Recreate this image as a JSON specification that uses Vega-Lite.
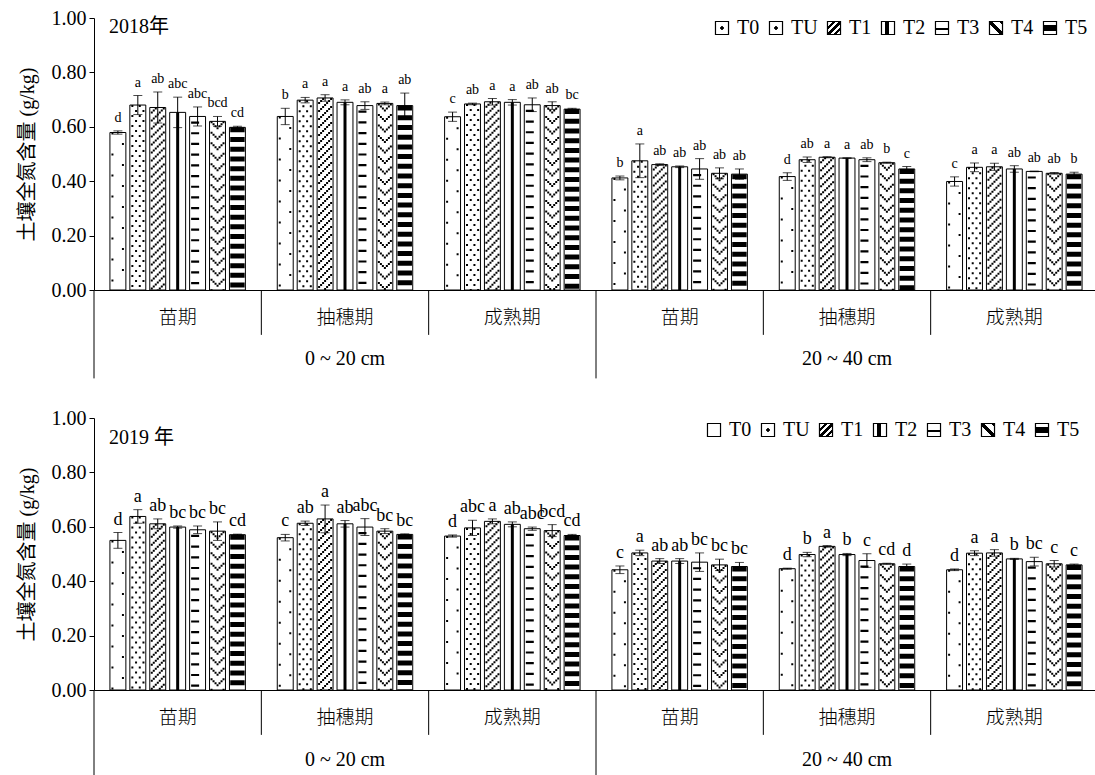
{
  "$schema": "https://vega.github.io/schema/vega-lite/v6.json",
  "background": "white",
  "padding": {"left": 17, "top": 8, "right": 0, "bottom": 0},
  "config": {"view": {"stroke": null}, "font": "Liberation Serif"},
  "datasets": {
    "y2018": [
      {"g": "0~20|苗期", "t": "T0", "v": 0.579, "lo": 0.573, "hi": 0.585, "lab": "d"},
      {"g": "0~20|苗期", "t": "TU", "v": 0.680, "lo": 0.645, "hi": 0.715, "lab": "a"},
      {"g": "0~20|苗期", "t": "T1", "v": 0.671, "lo": 0.614, "hi": 0.728, "lab": "ab"},
      {"g": "0~20|苗期", "t": "T2", "v": 0.653, "lo": 0.597, "hi": 0.709, "lab": "abc"},
      {"g": "0~20|苗期", "t": "T3", "v": 0.638, "lo": 0.603, "hi": 0.673, "lab": "abc"},
      {"g": "0~20|苗期", "t": "T4", "v": 0.620, "lo": 0.602, "hi": 0.638, "lab": "bcd"},
      {"g": "0~20|苗期", "t": "T5", "v": 0.598, "lo": 0.594, "hi": 0.602, "lab": "cd"},
      {"g": "0~20|抽穗期", "t": "T0", "v": 0.638, "lo": 0.608, "hi": 0.668, "lab": "b"},
      {"g": "0~20|抽穗期", "t": "TU", "v": 0.698, "lo": 0.688, "hi": 0.708, "lab": "a"},
      {"g": "0~20|抽穗期", "t": "T1", "v": 0.706, "lo": 0.694, "hi": 0.718, "lab": "a"},
      {"g": "0~20|抽穗期", "t": "T2", "v": 0.690, "lo": 0.681, "hi": 0.699, "lab": "a"},
      {"g": "0~20|抽穗期", "t": "T3", "v": 0.678, "lo": 0.664, "hi": 0.692, "lab": "ab"},
      {"g": "0~20|抽穗期", "t": "T4", "v": 0.686, "lo": 0.681, "hi": 0.691, "lab": "a"},
      {"g": "0~20|抽穗期", "t": "T5", "v": 0.678, "lo": 0.632, "hi": 0.724, "lab": "ab"},
      {"g": "0~20|成熟期", "t": "T0", "v": 0.637, "lo": 0.620, "hi": 0.654, "lab": "c"},
      {"g": "0~20|成熟期", "t": "TU", "v": 0.684, "lo": 0.681, "hi": 0.687, "lab": "ab"},
      {"g": "0~20|成熟期", "t": "T1", "v": 0.692, "lo": 0.680, "hi": 0.704, "lab": "a"},
      {"g": "0~20|成熟期", "t": "T2", "v": 0.690, "lo": 0.680, "hi": 0.700, "lab": "a"},
      {"g": "0~20|成熟期", "t": "T3", "v": 0.681, "lo": 0.656, "hi": 0.706, "lab": "ab"},
      {"g": "0~20|成熟期", "t": "T4", "v": 0.678, "lo": 0.664, "hi": 0.692, "lab": "ab"},
      {"g": "0~20|成熟期", "t": "T5", "v": 0.665, "lo": 0.662, "hi": 0.668, "lab": "bc"},
      {"g": "20~40|苗期", "t": "T0", "v": 0.412, "lo": 0.405, "hi": 0.419, "lab": "b"},
      {"g": "20~40|苗期", "t": "TU", "v": 0.475, "lo": 0.413, "hi": 0.537, "lab": "a"},
      {"g": "20~40|苗期", "t": "T1", "v": 0.461, "lo": 0.458, "hi": 0.464, "lab": "ab"},
      {"g": "20~40|苗期", "t": "T2", "v": 0.453, "lo": 0.450, "hi": 0.456, "lab": "ab"},
      {"g": "20~40|苗期", "t": "T3", "v": 0.445, "lo": 0.407, "hi": 0.483, "lab": "ab"},
      {"g": "20~40|苗期", "t": "T4", "v": 0.429, "lo": 0.409, "hi": 0.449, "lab": "ab"},
      {"g": "20~40|苗期", "t": "T5", "v": 0.426, "lo": 0.407, "hi": 0.445, "lab": "ab"},
      {"g": "20~40|抽穗期", "t": "T0", "v": 0.417, "lo": 0.403, "hi": 0.431, "lab": "d"},
      {"g": "20~40|抽穗期", "t": "TU", "v": 0.479, "lo": 0.469, "hi": 0.489, "lab": "ab"},
      {"g": "20~40|抽穗期", "t": "T1", "v": 0.488, "lo": 0.486, "hi": 0.490, "lab": "a"},
      {"g": "20~40|抽穗期", "t": "T2", "v": 0.485, "lo": 0.484, "hi": 0.486, "lab": "a"},
      {"g": "20~40|抽穗期", "t": "T3", "v": 0.479, "lo": 0.472, "hi": 0.486, "lab": "ab"},
      {"g": "20~40|抽穗期", "t": "T4", "v": 0.468, "lo": 0.466, "hi": 0.470, "lab": "b"},
      {"g": "20~40|抽穗期", "t": "T5", "v": 0.445, "lo": 0.436, "hi": 0.454, "lab": "c"},
      {"g": "20~40|成熟期", "t": "T0", "v": 0.399, "lo": 0.382, "hi": 0.416, "lab": "c"},
      {"g": "20~40|成熟期", "t": "TU", "v": 0.451, "lo": 0.435, "hi": 0.467, "lab": "a"},
      {"g": "20~40|成熟期", "t": "T1", "v": 0.453, "lo": 0.440, "hi": 0.466, "lab": "a"},
      {"g": "20~40|成熟期", "t": "T2", "v": 0.445, "lo": 0.433, "hi": 0.457, "lab": "ab"},
      {"g": "20~40|成熟期", "t": "T3", "v": 0.436, "lo": 0.435, "hi": 0.437, "lab": "ab"},
      {"g": "20~40|成熟期", "t": "T4", "v": 0.429, "lo": 0.426, "hi": 0.432, "lab": "ab"},
      {"g": "20~40|成熟期", "t": "T5", "v": 0.426, "lo": 0.419, "hi": 0.433, "lab": "b"}
    ],
    "y2019": [
      {"g": "0~20|苗期", "t": "T0", "v": 0.550, "lo": 0.521, "hi": 0.579, "lab": "d"},
      {"g": "0~20|苗期", "t": "TU", "v": 0.638, "lo": 0.613, "hi": 0.663, "lab": "a"},
      {"g": "0~20|苗期", "t": "T1", "v": 0.611, "lo": 0.593, "hi": 0.629, "lab": "ab"},
      {"g": "0~20|苗期", "t": "T2", "v": 0.599, "lo": 0.595, "hi": 0.603, "lab": "bc"},
      {"g": "0~20|苗期", "t": "T3", "v": 0.589, "lo": 0.575, "hi": 0.603, "lab": "bc"},
      {"g": "0~20|苗期", "t": "T4", "v": 0.584, "lo": 0.550, "hi": 0.618, "lab": "bc"},
      {"g": "0~20|苗期", "t": "T5", "v": 0.571, "lo": 0.569, "hi": 0.573, "lab": "cd"},
      {"g": "0~20|抽穗期", "t": "T0", "v": 0.560, "lo": 0.548, "hi": 0.572, "lab": "c"},
      {"g": "0~20|抽穗期", "t": "TU", "v": 0.613, "lo": 0.605, "hi": 0.621, "lab": "ab"},
      {"g": "0~20|抽穗期", "t": "T1", "v": 0.629, "lo": 0.578, "hi": 0.680, "lab": "a"},
      {"g": "0~20|抽穗期", "t": "T2", "v": 0.611, "lo": 0.599, "hi": 0.623, "lab": "ab"},
      {"g": "0~20|抽穗期", "t": "T3", "v": 0.599, "lo": 0.568, "hi": 0.630, "lab": "abc"},
      {"g": "0~20|抽穗期", "t": "T4", "v": 0.584, "lo": 0.575, "hi": 0.593, "lab": "bc"},
      {"g": "0~20|抽穗期", "t": "T5", "v": 0.572, "lo": 0.570, "hi": 0.574, "lab": "bc"},
      {"g": "0~20|成熟期", "t": "T0", "v": 0.566, "lo": 0.562, "hi": 0.570, "lab": "d"},
      {"g": "0~20|成熟期", "t": "TU", "v": 0.596, "lo": 0.568, "hi": 0.624, "lab": "abc"},
      {"g": "0~20|成熟期", "t": "T1", "v": 0.620, "lo": 0.611, "hi": 0.629, "lab": "a"},
      {"g": "0~20|成熟期", "t": "T2", "v": 0.609, "lo": 0.600, "hi": 0.618, "lab": "ab"},
      {"g": "0~20|成熟期", "t": "T3", "v": 0.593, "lo": 0.587, "hi": 0.599, "lab": "abc"},
      {"g": "0~20|成熟期", "t": "T4", "v": 0.586, "lo": 0.564, "hi": 0.608, "lab": "bcd"},
      {"g": "0~20|成熟期", "t": "T5", "v": 0.568, "lo": 0.564, "hi": 0.572, "lab": "cd"},
      {"g": "20~40|苗期", "t": "T0", "v": 0.442, "lo": 0.428, "hi": 0.456, "lab": "c"},
      {"g": "20~40|苗期", "t": "TU", "v": 0.504, "lo": 0.494, "hi": 0.514, "lab": "a"},
      {"g": "20~40|苗期", "t": "T1", "v": 0.474, "lo": 0.465, "hi": 0.483, "lab": "ab"},
      {"g": "20~40|苗期", "t": "T2", "v": 0.474, "lo": 0.465, "hi": 0.483, "lab": "ab"},
      {"g": "20~40|苗期", "t": "T3", "v": 0.470, "lo": 0.436, "hi": 0.504, "lab": "bc"},
      {"g": "20~40|苗期", "t": "T4", "v": 0.460, "lo": 0.439, "hi": 0.481, "lab": "bc"},
      {"g": "20~40|苗期", "t": "T5", "v": 0.454, "lo": 0.439, "hi": 0.469, "lab": "bc"},
      {"g": "20~40|抽穗期", "t": "T0", "v": 0.446, "lo": 0.444, "hi": 0.448, "lab": "d"},
      {"g": "20~40|抽穗期", "t": "TU", "v": 0.498, "lo": 0.490, "hi": 0.506, "lab": "b"},
      {"g": "20~40|抽穗期", "t": "T1", "v": 0.528, "lo": 0.525, "hi": 0.531, "lab": "a"},
      {"g": "20~40|抽穗期", "t": "T2", "v": 0.498, "lo": 0.494, "hi": 0.502, "lab": "b"},
      {"g": "20~40|抽穗期", "t": "T3", "v": 0.476, "lo": 0.451, "hi": 0.501, "lab": "c"},
      {"g": "20~40|抽穗期", "t": "T4", "v": 0.464, "lo": 0.462, "hi": 0.466, "lab": "cd"},
      {"g": "20~40|抽穗期", "t": "T5", "v": 0.454, "lo": 0.445, "hi": 0.463, "lab": "d"},
      {"g": "20~40|成熟期", "t": "T0", "v": 0.442, "lo": 0.439, "hi": 0.445, "lab": "d"},
      {"g": "20~40|成熟期", "t": "TU", "v": 0.503, "lo": 0.494, "hi": 0.512, "lab": "a"},
      {"g": "20~40|成熟期", "t": "T1", "v": 0.504, "lo": 0.492, "hi": 0.516, "lab": "a"},
      {"g": "20~40|成熟期", "t": "T2", "v": 0.482, "lo": 0.480, "hi": 0.484, "lab": "b"},
      {"g": "20~40|成熟期", "t": "T3", "v": 0.472, "lo": 0.456, "hi": 0.488, "lab": "bc"},
      {"g": "20~40|成熟期", "t": "T4", "v": 0.464, "lo": 0.452, "hi": 0.476, "lab": "c"},
      {"g": "20~40|成熟期", "t": "T5", "v": 0.460, "lo": 0.457, "hi": 0.463, "lab": "c"}
    ]
  },
  "spacing": 128,
  "bounds": "flush",
  "resolve": {"scale": {"x": "independent", "y": "independent", "xOffset": "independent", "stroke": "independent"}, "legend": {"stroke": "independent"}},
  "vconcat": [
    {
      "width": 1004,
      "height": 272,
      "data": {"name": "y2018"},
      "layer": [
        {
          "mark": {"type": "bar", "fill": "#fff", "strokeWidth": 1},
          "encoding": {
            "x": {"field": "g", "type": "nominal", "scale": {"domain": ["0~20|苗期", "0~20|抽穗期", "0~20|成熟期", "20~40|苗期", "20~40|抽穗期", "20~40|成熟期"], "paddingInner": 0, "paddingOuter": 0},
              "axis": {"title": null, "labelExpr": "split(datum.label, '|')[1]", "ticks": false, "labelAngle": 0, "labelPadding": 18, "labelFont": "Noto Sans CJK SC", "labelFontSize": 19, "labelFontWeight": 300, "labelColor": "#000", "domainColor": "#000", "labelLimit": 0}},
            "xOffset": {"field": "t", "type": "nominal", "scale": {"domain": ["T0", "TU", "T1", "T2", "T3", "T4", "T5"], "paddingInner": 0.2, "paddingOuter": 0.8}},
            "y": {"field": "v", "type": "quantitative", "scale": {"domain": [0, 1]},
              "axis": {"title": "土壤全氮含量 (g/kg)", "values": [0, 0.2, 0.4, 0.6, 0.8, 1], "format": ".2f", "grid": false, "tickSize": 5, "tickColor": "#000", "domainColor": "#000", "labelFont": "Liberation Serif", "labelFontSize": 20, "labelColor": "#000", "labelPadding": 3, "titleFont": "Liberation Serif, Noto Sans CJK SC", "titleFontSize": 20, "titleFontWeight": "normal", "titleColor": "#000", "titlePadding": 14}},
            "stroke": {"field": "t", "type": "nominal", "scale": {"domain": ["T0", "TU", "T1", "T2", "T3", "T4", "T5"], "range": ["#000", "#000", "#000", "#000", "#000", "#000", "#000"]},
              "legend": {"title": null, "orient": "none", "legendX": 618, "legendY": 0, "direction": "horizontal", "gridAlign": "none", "symbolType": "square", "symbolSize": 170, "symbolStrokeWidth": 1.2, "symbolStrokeColor": "#000", "labelFont": "Liberation Serif", "labelFontSize": 20, "labelColor": "#000", "labelOffset": 5, "columnPadding": 6,
                "encoding": {"symbols": {"fillOpacity": {"value": 1}, "fill": {"condition": [
                  {"test": "datum.value === 'T0' || datum.value === 'TU'", "value": {"gradient": "radial", "x1": 0.5, "y1": 0.5, "r1": 0, "x2": 0.5, "y2": 0.5, "r2": 0.5, "stops": [{"offset": 0, "color": "#000"}, {"offset": 0.28, "color": "#000"}, {"offset": 0.3, "color": "#fff"}, {"offset": 1, "color": "#fff"}]}},
                  {"test": "datum.value === 'T1'", "value": {"gradient": "linear", "x1": 0, "y1": 0, "x2": 1, "y2": 1, "stops": [{"offset": 0, "color": "#fff"}, {"offset": 0.22, "color": "#fff"}, {"offset": 0.22, "color": "#000"}, {"offset": 0.34, "color": "#000"}, {"offset": 0.34, "color": "#fff"}, {"offset": 0.46, "color": "#fff"}, {"offset": 0.46, "color": "#000"}, {"offset": 0.58, "color": "#000"}, {"offset": 0.58, "color": "#fff"}, {"offset": 0.7, "color": "#fff"}, {"offset": 0.7, "color": "#000"}, {"offset": 0.82, "color": "#000"}, {"offset": 0.82, "color": "#fff"}, {"offset": 1, "color": "#fff"}]}},
                  {"test": "datum.value === 'T2'", "value": {"gradient": "linear", "x1": 0, "y1": 0, "x2": 1, "y2": 0, "stops": [{"offset": 0, "color": "#fff"}, {"offset": 0.3, "color": "#fff"}, {"offset": 0.3, "color": "#000"}, {"offset": 0.55, "color": "#000"}, {"offset": 0.55, "color": "#fff"}, {"offset": 1, "color": "#fff"}]}},
                  {"test": "datum.value === 'T3'", "value": {"gradient": "linear", "x1": 0, "y1": 0, "x2": 0, "y2": 1, "stops": [{"offset": 0, "color": "#fff"}, {"offset": 0.5, "color": "#fff"}, {"offset": 0.5, "color": "#000"}, {"offset": 0.64, "color": "#000"}, {"offset": 0.64, "color": "#fff"}, {"offset": 1, "color": "#fff"}]}},
                  {"test": "datum.value === 'T4'", "value": {"gradient": "linear", "x1": 0, "y1": 1, "x2": 1, "y2": 0, "stops": [{"offset": 0, "color": "#fff"}, {"offset": 0.42, "color": "#fff"}, {"offset": 0.42, "color": "#000"}, {"offset": 0.58, "color": "#000"}, {"offset": 0.58, "color": "#fff"}, {"offset": 0.85, "color": "#fff"}, {"offset": 0.85, "color": "#000"}, {"offset": 1, "color": "#000"}]}},
                  {"test": "datum.value === 'T5'", "value": {"gradient": "linear", "x1": 0, "y1": 0, "x2": 0, "y2": 1, "stops": [{"offset": 0, "color": "#fff"}, {"offset": 0.3, "color": "#fff"}, {"offset": 0.3, "color": "#000"}, {"offset": 0.7, "color": "#000"}, {"offset": 0.7, "color": "#fff"}, {"offset": 1, "color": "#fff"}]}}],
                  "value": "#fff"}}}}}
          }
        },
        {"transform": [{"filter": "datum.t == 'T0'"}], "mark": {"type": "rule", "color": "#000", "strokeWidth": 2, "strokeDash": [2, 19], "strokeDashOffset": 0}, "encoding": {"x": {"field": "g", "type": "nominal", "bandPosition": 0.1102}, "y": {"field": "v", "type": "quantitative"}, "y2": {"datum": 0}}},
        {"transform": [{"filter": "datum.t == 'T0'"}], "mark": {"type": "rule", "color": "#000", "strokeWidth": 2, "strokeDash": [2, 19], "strokeDashOffset": 10.5}, "encoding": {"x": {"field": "g", "type": "nominal", "bandPosition": 0.1729}, "y": {"field": "v", "type": "quantitative"}, "y2": {"datum": 0}}},
        {"transform": [{"filter": "datum.t == 'TU'"}], "mark": {"type": "rule", "color": "#000", "strokeWidth": 2, "strokeDash": [2, 8], "strokeDashOffset": 0}, "encoding": {"x": {"field": "g", "type": "nominal", "bandPosition": 0.2292}, "y": {"field": "v", "type": "quantitative"}, "y2": {"datum": 0}}},
        {"transform": [{"filter": "datum.t == 'TU'"}], "mark": {"type": "rule", "color": "#000", "strokeWidth": 2, "strokeDash": [2, 8], "strokeDashOffset": 5}, "encoding": {"x": {"field": "g", "type": "nominal", "bandPosition": 0.2513}, "y": {"field": "v", "type": "quantitative"}, "y2": {"datum": 0}}},
        {"transform": [{"filter": "datum.t == 'TU'"}], "mark": {"type": "rule", "color": "#000", "strokeWidth": 2, "strokeDash": [2, 8], "strokeDashOffset": 0}, "encoding": {"x": {"field": "g", "type": "nominal", "bandPosition": 0.2735}, "y": {"field": "v", "type": "quantitative"}, "y2": {"datum": 0}}},
        {"transform": [{"filter": "datum.t == 'TU'"}], "mark": {"type": "rule", "color": "#000", "strokeWidth": 2, "strokeDash": [2, 8], "strokeDashOffset": 5}, "encoding": {"x": {"field": "g", "type": "nominal", "bandPosition": 0.2956}, "y": {"field": "v", "type": "quantitative"}, "y2": {"datum": 0}}},
        {"transform": [{"filter": "datum.t == 'T1'"}], "mark": {"type": "rule", "color": "#000", "strokeWidth": 2, "strokeDash": [2, 6], "strokeDashOffset": 4}, "encoding": {"x": {"field": "g", "type": "nominal", "bandPosition": 0.3453}, "y": {"field": "v", "type": "quantitative"}, "y2": {"datum": 0}}},
        {"transform": [{"filter": "datum.t == 'T1'"}], "mark": {"type": "rule", "color": "#000", "strokeWidth": 2, "strokeDash": [2, 6], "strokeDashOffset": 6}, "encoding": {"x": {"field": "g", "type": "nominal", "bandPosition": 0.3572}, "y": {"field": "v", "type": "quantitative"}, "y2": {"datum": 0}}},
        {"transform": [{"filter": "datum.t == 'T1'"}], "mark": {"type": "rule", "color": "#000", "strokeWidth": 2, "strokeDash": [2, 6], "strokeDashOffset": 0}, "encoding": {"x": {"field": "g", "type": "nominal", "bandPosition": 0.3692}, "y": {"field": "v", "type": "quantitative"}, "y2": {"datum": 0}}},
        {"transform": [{"filter": "datum.t == 'T1'"}], "mark": {"type": "rule", "color": "#000", "strokeWidth": 2, "strokeDash": [2, 6], "strokeDashOffset": 2}, "encoding": {"x": {"field": "g", "type": "nominal", "bandPosition": 0.3812}, "y": {"field": "v", "type": "quantitative"}, "y2": {"datum": 0}}},
        {"transform": [{"filter": "datum.t == 'T1'"}], "mark": {"type": "rule", "color": "#000", "strokeWidth": 2, "strokeDash": [2, 6], "strokeDashOffset": 4}, "encoding": {"x": {"field": "g", "type": "nominal", "bandPosition": 0.3931}, "y": {"field": "v", "type": "quantitative"}, "y2": {"datum": 0}}},
        {"transform": [{"filter": "datum.t == 'T1'"}], "mark": {"type": "rule", "color": "#000", "strokeWidth": 2, "strokeDash": [2, 6], "strokeDashOffset": 6}, "encoding": {"x": {"field": "g", "type": "nominal", "bandPosition": 0.4051}, "y": {"field": "v", "type": "quantitative"}, "y2": {"datum": 0}}},
        {"transform": [{"filter": "datum.t == 'T1'"}], "mark": {"type": "rule", "color": "#000", "strokeWidth": 2, "strokeDash": [2, 6], "strokeDashOffset": 0}, "encoding": {"x": {"field": "g", "type": "nominal", "bandPosition": 0.4170}, "y": {"field": "v", "type": "quantitative"}, "y2": {"datum": 0}}},
        {"transform": [{"filter": "datum.t == 'T2'"}], "mark": {"type": "rule", "color": "#000", "strokeWidth": 3}, "encoding": {"x": {"field": "g", "type": "nominal", "bandPosition": 0.5}, "y": {"field": "v", "type": "quantitative"}, "y2": {"datum": 0}}},
        {"transform": [{"filter": "datum.t == 'T3'"}], "mark": {"type": "rule", "color": "#000", "strokeWidth": 8, "strokeDash": [2.2, 8.5], "strokeDashOffset": 5.7}, "encoding": {"x": {"field": "g", "type": "nominal", "bandPosition": 0.6043}, "y": {"field": "v", "type": "quantitative"}, "y2": {"datum": 0}}},
        {"transform": [{"filter": "datum.t == 'T4'"}], "mark": {"type": "rule", "color": "#000", "strokeWidth": 2, "strokeDash": [2, 8.5], "strokeDashOffset": 0}, "encoding": {"x": {"field": "g", "type": "nominal", "bandPosition": 0.7024}, "y": {"field": "v", "type": "quantitative"}, "y2": {"datum": 0}}},
        {"transform": [{"filter": "datum.t == 'T4'"}], "mark": {"type": "rule", "color": "#000", "strokeWidth": 2, "strokeDash": [2, 8.5], "strokeDashOffset": 8.5}, "encoding": {"x": {"field": "g", "type": "nominal", "bandPosition": 0.7144}, "y": {"field": "v", "type": "quantitative"}, "y2": {"datum": 0}}},
        {"transform": [{"filter": "datum.t == 'T4'"}], "mark": {"type": "rule", "color": "#000", "strokeWidth": 2, "strokeDash": [2, 8.5], "strokeDashOffset": 6.5}, "encoding": {"x": {"field": "g", "type": "nominal", "bandPosition": 0.7263}, "y": {"field": "v", "type": "quantitative"}, "y2": {"datum": 0}}},
        {"transform": [{"filter": "datum.t == 'T4'"}], "mark": {"type": "rule", "color": "#000", "strokeWidth": 2, "strokeDash": [2, 8.5], "strokeDashOffset": 4.5}, "encoding": {"x": {"field": "g", "type": "nominal", "bandPosition": 0.7383}, "y": {"field": "v", "type": "quantitative"}, "y2": {"datum": 0}}},
        {"transform": [{"filter": "datum.t == 'T4'"}], "mark": {"type": "rule", "color": "#000", "strokeWidth": 2, "strokeDash": [2, 8.5], "strokeDashOffset": 6.5}, "encoding": {"x": {"field": "g", "type": "nominal", "bandPosition": 0.7502}, "y": {"field": "v", "type": "quantitative"}, "y2": {"datum": 0}}},
        {"transform": [{"filter": "datum.t == 'T4'"}], "mark": {"type": "rule", "color": "#000", "strokeWidth": 2, "strokeDash": [2, 8.5], "strokeDashOffset": 8.5}, "encoding": {"x": {"field": "g", "type": "nominal", "bandPosition": 0.7622}, "y": {"field": "v", "type": "quantitative"}, "y2": {"datum": 0}}},
        {"transform": [{"filter": "datum.t == 'T4'"}], "mark": {"type": "rule", "color": "#000", "strokeWidth": 2, "strokeDash": [2, 8.5], "strokeDashOffset": 0}, "encoding": {"x": {"field": "g", "type": "nominal", "bandPosition": 0.7741}, "y": {"field": "v", "type": "quantitative"}, "y2": {"datum": 0}}},
        {"transform": [{"filter": "datum.t == 'T5'"}], "mark": {"type": "rule", "color": "#000", "strokeWidth": 14.4, "strokeDash": [5, 4.7]}, "encoding": {"x": {"field": "g", "type": "nominal", "bandPosition": 0.8572}, "y": {"field": "v", "type": "quantitative"}, "y2": {"datum": 0}}},
        {"mark": {"type": "rule", "color": "#000", "strokeWidth": 1}, "encoding": {"x": {"field": "g", "type": "nominal"}, "xOffset": {"field": "t", "type": "nominal"}, "y": {"field": "lo", "type": "quantitative"}, "y2": {"field": "hi"}}},
        {"mark": {"type": "tick", "color": "#000", "size": 9, "thickness": 1}, "encoding": {"x": {"field": "g", "type": "nominal"}, "xOffset": {"field": "t", "type": "nominal"}, "y": {"field": "hi", "type": "quantitative"}}},
        {"mark": {"type": "tick", "color": "#000", "size": 9, "thickness": 1}, "encoding": {"x": {"field": "g", "type": "nominal"}, "xOffset": {"field": "t", "type": "nominal"}, "y": {"field": "lo", "type": "quantitative"}}},
        {
          "mark": {"type": "text", "font": "Liberation Serif", "fontSize": 14, "color": "#000", "baseline": "alphabetic", "dy": -9},
          "encoding": {"x": {"field": "g", "type": "nominal"}, "xOffset": {"field": "t", "type": "nominal"}, "y": {"field": "hi", "type": "quantitative"}, "text": {"field": "lab", "type": "nominal"}}
        },
        {
          "data": {"values": [{"g": "0~20|抽穗期"}, {"g": "0~20|成熟期"}, {"g": "20~40|抽穗期"}, {"g": "20~40|成熟期"}]},
          "mark": {"type": "rule", "color": "#000", "strokeWidth": 1},
          "encoding": {"x": {"field": "g", "type": "nominal", "bandPosition": 0}, "y": {"datum": 0, "type": "quantitative"}, "y2": {"datum": -0.165}}
        },
        {
          "data": {"values": [{"g": "0~20|苗期"}, {"g": "20~40|苗期"}]},
          "mark": {"type": "rule", "color": "#000", "strokeWidth": 1},
          "encoding": {"x": {"field": "g", "type": "nominal", "bandPosition": 0}, "y": {"datum": 0, "type": "quantitative"}, "y2": {"datum": -0.325}}
        },
        {
          "data": {"values": [{"g": "0~20|抽穗期", "d": "0 ~ 20 cm"}, {"g": "20~40|抽穗期", "d": "20 ~ 40 cm"}]},
          "mark": {"type": "text", "font": "Liberation Serif", "fontSize": 20, "color": "#000", "baseline": "middle"},
          "encoding": {"x": {"field": "g", "type": "nominal", "bandPosition": 0.5}, "y": {"datum": -0.255, "type": "quantitative"}, "text": {"field": "d", "type": "nominal"}}
        },
        {
          "data": {"values": [{"g": "0~20|苗期", "s": "2018年"}]},
          "mark": {"type": "text", "font": "Liberation Serif, Noto Sans CJK SC", "fontSize": 20, "color": "#000", "align": "left", "baseline": "middle"},
          "encoding": {"x": {"field": "g", "type": "nominal", "bandPosition": 0.09}, "y": {"datum": 0.968, "type": "quantitative"}, "text": {"field": "s", "type": "nominal"}}
        }
      ]
    },
    {
      "width": 1004,
      "height": 272,
      "data": {"name": "y2019"},
      "layer": [
        {
          "mark": {"type": "bar", "fill": "#fff", "strokeWidth": 1},
          "encoding": {
            "x": {"field": "g", "type": "nominal", "scale": {"domain": ["0~20|苗期", "0~20|抽穗期", "0~20|成熟期", "20~40|苗期", "20~40|抽穗期", "20~40|成熟期"], "paddingInner": 0, "paddingOuter": 0},
              "axis": {"title": null, "labelExpr": "split(datum.label, '|')[1]", "ticks": false, "labelAngle": 0, "labelPadding": 18, "labelFont": "Noto Sans CJK SC", "labelFontSize": 19, "labelFontWeight": 300, "labelColor": "#000", "domainColor": "#000", "labelLimit": 0}},
            "xOffset": {"field": "t", "type": "nominal", "scale": {"domain": ["T0", "TU", "T1", "T2", "T3", "T4", "T5"], "paddingInner": 0.2, "paddingOuter": 0.8}},
            "y": {"field": "v", "type": "quantitative", "scale": {"domain": [0, 1]},
              "axis": {"title": "土壤全氮含量 (g/kg)", "values": [0, 0.2, 0.4, 0.6, 0.8, 1], "format": ".2f", "grid": false, "tickSize": 5, "tickColor": "#000", "domainColor": "#000", "labelFont": "Liberation Serif", "labelFontSize": 20, "labelColor": "#000", "labelPadding": 3, "titleFont": "Liberation Serif, Noto Sans CJK SC", "titleFontSize": 20, "titleFontWeight": "normal", "titleColor": "#000", "titlePadding": 14}},
            "stroke": {"field": "t", "type": "nominal", "scale": {"domain": ["T0", "TU", "T1", "T2", "T3", "T4", "T5"], "range": ["#000", "#000", "#000", "#000", "#000", "#000", "#000"]},
              "legend": {"title": null, "orient": "none", "legendX": 610, "legendY": 2, "direction": "horizontal", "gridAlign": "none", "symbolType": "square", "symbolSize": 170, "symbolStrokeWidth": 1.2, "symbolStrokeColor": "#000", "labelFont": "Liberation Serif", "labelFontSize": 20, "labelColor": "#000", "labelOffset": 5, "columnPadding": 6,
                "encoding": {"symbols": {"fillOpacity": {"value": 1}, "fill": {"condition": [
                  {"test": "datum.value === 'TU'", "value": {"gradient": "radial", "x1": 0.5, "y1": 0.5, "r1": 0, "x2": 0.5, "y2": 0.5, "r2": 0.5, "stops": [{"offset": 0, "color": "#000"}, {"offset": 0.28, "color": "#000"}, {"offset": 0.3, "color": "#fff"}, {"offset": 1, "color": "#fff"}]}},
                  {"test": "datum.value === 'T1'", "value": {"gradient": "linear", "x1": 0, "y1": 0, "x2": 1, "y2": 1, "stops": [{"offset": 0, "color": "#fff"}, {"offset": 0.22, "color": "#fff"}, {"offset": 0.22, "color": "#000"}, {"offset": 0.34, "color": "#000"}, {"offset": 0.34, "color": "#fff"}, {"offset": 0.46, "color": "#fff"}, {"offset": 0.46, "color": "#000"}, {"offset": 0.58, "color": "#000"}, {"offset": 0.58, "color": "#fff"}, {"offset": 0.7, "color": "#fff"}, {"offset": 0.7, "color": "#000"}, {"offset": 0.82, "color": "#000"}, {"offset": 0.82, "color": "#fff"}, {"offset": 1, "color": "#fff"}]}},
                  {"test": "datum.value === 'T2'", "value": {"gradient": "linear", "x1": 0, "y1": 0, "x2": 1, "y2": 0, "stops": [{"offset": 0, "color": "#fff"}, {"offset": 0.3, "color": "#fff"}, {"offset": 0.3, "color": "#000"}, {"offset": 0.55, "color": "#000"}, {"offset": 0.55, "color": "#fff"}, {"offset": 1, "color": "#fff"}]}},
                  {"test": "datum.value === 'T3'", "value": {"gradient": "linear", "x1": 0, "y1": 0, "x2": 0, "y2": 1, "stops": [{"offset": 0, "color": "#fff"}, {"offset": 0.5, "color": "#fff"}, {"offset": 0.5, "color": "#000"}, {"offset": 0.64, "color": "#000"}, {"offset": 0.64, "color": "#fff"}, {"offset": 1, "color": "#fff"}]}},
                  {"test": "datum.value === 'T4'", "value": {"gradient": "linear", "x1": 0, "y1": 1, "x2": 1, "y2": 0, "stops": [{"offset": 0, "color": "#fff"}, {"offset": 0.42, "color": "#fff"}, {"offset": 0.42, "color": "#000"}, {"offset": 0.58, "color": "#000"}, {"offset": 0.58, "color": "#fff"}, {"offset": 0.85, "color": "#fff"}, {"offset": 0.85, "color": "#000"}, {"offset": 1, "color": "#000"}]}},
                  {"test": "datum.value === 'T5'", "value": {"gradient": "linear", "x1": 0, "y1": 0, "x2": 0, "y2": 1, "stops": [{"offset": 0, "color": "#fff"}, {"offset": 0.3, "color": "#fff"}, {"offset": 0.3, "color": "#000"}, {"offset": 0.7, "color": "#000"}, {"offset": 0.7, "color": "#fff"}, {"offset": 1, "color": "#fff"}]}}],
                  "value": "#fff"}}}}}
          }
        },
        {"transform": [{"filter": "datum.t == 'T0'"}], "mark": {"type": "rule", "color": "#000", "strokeWidth": 2, "strokeDash": [2, 19], "strokeDashOffset": 0}, "encoding": {"x": {"field": "g", "type": "nominal", "bandPosition": 0.1102}, "y": {"field": "v", "type": "quantitative"}, "y2": {"datum": 0}}},
        {"transform": [{"filter": "datum.t == 'T0'"}], "mark": {"type": "rule", "color": "#000", "strokeWidth": 2, "strokeDash": [2, 19], "strokeDashOffset": 10.5}, "encoding": {"x": {"field": "g", "type": "nominal", "bandPosition": 0.1729}, "y": {"field": "v", "type": "quantitative"}, "y2": {"datum": 0}}},
        {"transform": [{"filter": "datum.t == 'TU'"}], "mark": {"type": "rule", "color": "#000", "strokeWidth": 2, "strokeDash": [2, 8], "strokeDashOffset": 0}, "encoding": {"x": {"field": "g", "type": "nominal", "bandPosition": 0.2292}, "y": {"field": "v", "type": "quantitative"}, "y2": {"datum": 0}}},
        {"transform": [{"filter": "datum.t == 'TU'"}], "mark": {"type": "rule", "color": "#000", "strokeWidth": 2, "strokeDash": [2, 8], "strokeDashOffset": 5}, "encoding": {"x": {"field": "g", "type": "nominal", "bandPosition": 0.2513}, "y": {"field": "v", "type": "quantitative"}, "y2": {"datum": 0}}},
        {"transform": [{"filter": "datum.t == 'TU'"}], "mark": {"type": "rule", "color": "#000", "strokeWidth": 2, "strokeDash": [2, 8], "strokeDashOffset": 0}, "encoding": {"x": {"field": "g", "type": "nominal", "bandPosition": 0.2735}, "y": {"field": "v", "type": "quantitative"}, "y2": {"datum": 0}}},
        {"transform": [{"filter": "datum.t == 'TU'"}], "mark": {"type": "rule", "color": "#000", "strokeWidth": 2, "strokeDash": [2, 8], "strokeDashOffset": 5}, "encoding": {"x": {"field": "g", "type": "nominal", "bandPosition": 0.2956}, "y": {"field": "v", "type": "quantitative"}, "y2": {"datum": 0}}},
        {"transform": [{"filter": "datum.t == 'T1'"}], "mark": {"type": "rule", "color": "#000", "strokeWidth": 2, "strokeDash": [2, 6], "strokeDashOffset": 4}, "encoding": {"x": {"field": "g", "type": "nominal", "bandPosition": 0.3453}, "y": {"field": "v", "type": "quantitative"}, "y2": {"datum": 0}}},
        {"transform": [{"filter": "datum.t == 'T1'"}], "mark": {"type": "rule", "color": "#000", "strokeWidth": 2, "strokeDash": [2, 6], "strokeDashOffset": 6}, "encoding": {"x": {"field": "g", "type": "nominal", "bandPosition": 0.3572}, "y": {"field": "v", "type": "quantitative"}, "y2": {"datum": 0}}},
        {"transform": [{"filter": "datum.t == 'T1'"}], "mark": {"type": "rule", "color": "#000", "strokeWidth": 2, "strokeDash": [2, 6], "strokeDashOffset": 0}, "encoding": {"x": {"field": "g", "type": "nominal", "bandPosition": 0.3692}, "y": {"field": "v", "type": "quantitative"}, "y2": {"datum": 0}}},
        {"transform": [{"filter": "datum.t == 'T1'"}], "mark": {"type": "rule", "color": "#000", "strokeWidth": 2, "strokeDash": [2, 6], "strokeDashOffset": 2}, "encoding": {"x": {"field": "g", "type": "nominal", "bandPosition": 0.3812}, "y": {"field": "v", "type": "quantitative"}, "y2": {"datum": 0}}},
        {"transform": [{"filter": "datum.t == 'T1'"}], "mark": {"type": "rule", "color": "#000", "strokeWidth": 2, "strokeDash": [2, 6], "strokeDashOffset": 4}, "encoding": {"x": {"field": "g", "type": "nominal", "bandPosition": 0.3931}, "y": {"field": "v", "type": "quantitative"}, "y2": {"datum": 0}}},
        {"transform": [{"filter": "datum.t == 'T1'"}], "mark": {"type": "rule", "color": "#000", "strokeWidth": 2, "strokeDash": [2, 6], "strokeDashOffset": 6}, "encoding": {"x": {"field": "g", "type": "nominal", "bandPosition": 0.4051}, "y": {"field": "v", "type": "quantitative"}, "y2": {"datum": 0}}},
        {"transform": [{"filter": "datum.t == 'T1'"}], "mark": {"type": "rule", "color": "#000", "strokeWidth": 2, "strokeDash": [2, 6], "strokeDashOffset": 0}, "encoding": {"x": {"field": "g", "type": "nominal", "bandPosition": 0.4170}, "y": {"field": "v", "type": "quantitative"}, "y2": {"datum": 0}}},
        {"transform": [{"filter": "datum.t == 'T2'"}], "mark": {"type": "rule", "color": "#000", "strokeWidth": 3}, "encoding": {"x": {"field": "g", "type": "nominal", "bandPosition": 0.5}, "y": {"field": "v", "type": "quantitative"}, "y2": {"datum": 0}}},
        {"transform": [{"filter": "datum.t == 'T3'"}], "mark": {"type": "rule", "color": "#000", "strokeWidth": 8, "strokeDash": [2.2, 8.5], "strokeDashOffset": 5.7}, "encoding": {"x": {"field": "g", "type": "nominal", "bandPosition": 0.6043}, "y": {"field": "v", "type": "quantitative"}, "y2": {"datum": 0}}},
        {"transform": [{"filter": "datum.t == 'T4'"}], "mark": {"type": "rule", "color": "#000", "strokeWidth": 2, "strokeDash": [2, 8.5], "strokeDashOffset": 0}, "encoding": {"x": {"field": "g", "type": "nominal", "bandPosition": 0.7024}, "y": {"field": "v", "type": "quantitative"}, "y2": {"datum": 0}}},
        {"transform": [{"filter": "datum.t == 'T4'"}], "mark": {"type": "rule", "color": "#000", "strokeWidth": 2, "strokeDash": [2, 8.5], "strokeDashOffset": 8.5}, "encoding": {"x": {"field": "g", "type": "nominal", "bandPosition": 0.7144}, "y": {"field": "v", "type": "quantitative"}, "y2": {"datum": 0}}},
        {"transform": [{"filter": "datum.t == 'T4'"}], "mark": {"type": "rule", "color": "#000", "strokeWidth": 2, "strokeDash": [2, 8.5], "strokeDashOffset": 6.5}, "encoding": {"x": {"field": "g", "type": "nominal", "bandPosition": 0.7263}, "y": {"field": "v", "type": "quantitative"}, "y2": {"datum": 0}}},
        {"transform": [{"filter": "datum.t == 'T4'"}], "mark": {"type": "rule", "color": "#000", "strokeWidth": 2, "strokeDash": [2, 8.5], "strokeDashOffset": 4.5}, "encoding": {"x": {"field": "g", "type": "nominal", "bandPosition": 0.7383}, "y": {"field": "v", "type": "quantitative"}, "y2": {"datum": 0}}},
        {"transform": [{"filter": "datum.t == 'T4'"}], "mark": {"type": "rule", "color": "#000", "strokeWidth": 2, "strokeDash": [2, 8.5], "strokeDashOffset": 6.5}, "encoding": {"x": {"field": "g", "type": "nominal", "bandPosition": 0.7502}, "y": {"field": "v", "type": "quantitative"}, "y2": {"datum": 0}}},
        {"transform": [{"filter": "datum.t == 'T4'"}], "mark": {"type": "rule", "color": "#000", "strokeWidth": 2, "strokeDash": [2, 8.5], "strokeDashOffset": 8.5}, "encoding": {"x": {"field": "g", "type": "nominal", "bandPosition": 0.7622}, "y": {"field": "v", "type": "quantitative"}, "y2": {"datum": 0}}},
        {"transform": [{"filter": "datum.t == 'T4'"}], "mark": {"type": "rule", "color": "#000", "strokeWidth": 2, "strokeDash": [2, 8.5], "strokeDashOffset": 0}, "encoding": {"x": {"field": "g", "type": "nominal", "bandPosition": 0.7741}, "y": {"field": "v", "type": "quantitative"}, "y2": {"datum": 0}}},
        {"transform": [{"filter": "datum.t == 'T5'"}], "mark": {"type": "rule", "color": "#000", "strokeWidth": 14.4, "strokeDash": [5, 4.7]}, "encoding": {"x": {"field": "g", "type": "nominal", "bandPosition": 0.8572}, "y": {"field": "v", "type": "quantitative"}, "y2": {"datum": 0}}},
        {"mark": {"type": "rule", "color": "#000", "strokeWidth": 1}, "encoding": {"x": {"field": "g", "type": "nominal"}, "xOffset": {"field": "t", "type": "nominal"}, "y": {"field": "lo", "type": "quantitative"}, "y2": {"field": "hi"}}},
        {"mark": {"type": "tick", "color": "#000", "size": 9, "thickness": 1}, "encoding": {"x": {"field": "g", "type": "nominal"}, "xOffset": {"field": "t", "type": "nominal"}, "y": {"field": "hi", "type": "quantitative"}}},
        {"mark": {"type": "tick", "color": "#000", "size": 9, "thickness": 1}, "encoding": {"x": {"field": "g", "type": "nominal"}, "xOffset": {"field": "t", "type": "nominal"}, "y": {"field": "lo", "type": "quantitative"}}},
        {
          "mark": {"type": "text", "font": "Liberation Serif", "fontSize": 18, "color": "#000", "baseline": "alphabetic", "dy": -8},
          "encoding": {"x": {"field": "g", "type": "nominal"}, "xOffset": {"field": "t", "type": "nominal"}, "y": {"field": "hi", "type": "quantitative"}, "text": {"field": "lab", "type": "nominal"}}
        },
        {
          "data": {"values": [{"g": "0~20|抽穗期"}, {"g": "0~20|成熟期"}, {"g": "20~40|抽穗期"}, {"g": "20~40|成熟期"}]},
          "mark": {"type": "rule", "color": "#000", "strokeWidth": 1},
          "encoding": {"x": {"field": "g", "type": "nominal", "bandPosition": 0}, "y": {"datum": 0, "type": "quantitative"}, "y2": {"datum": -0.165}}
        },
        {
          "data": {"values": [{"g": "0~20|苗期"}, {"g": "20~40|苗期"}]},
          "mark": {"type": "rule", "color": "#000", "strokeWidth": 1},
          "encoding": {"x": {"field": "g", "type": "nominal", "bandPosition": 0}, "y": {"datum": 0, "type": "quantitative"}, "y2": {"datum": -0.33}}
        },
        {
          "data": {"values": [{"g": "0~20|抽穗期", "d": "0 ~ 20 cm"}, {"g": "20~40|抽穗期", "d": "20 ~ 40 cm"}]},
          "mark": {"type": "text", "font": "Liberation Serif", "fontSize": 20, "color": "#000", "baseline": "middle"},
          "encoding": {"x": {"field": "g", "type": "nominal", "bandPosition": 0.5}, "y": {"datum": -0.258, "type": "quantitative"}, "text": {"field": "d", "type": "nominal"}}
        },
        {
          "data": {"values": [{"g": "0~20|苗期", "s": "2019 年"}]},
          "mark": {"type": "text", "font": "Liberation Serif, Noto Sans CJK SC", "fontSize": 20, "color": "#000", "align": "left", "baseline": "middle"},
          "encoding": {"x": {"field": "g", "type": "nominal", "bandPosition": 0.09}, "y": {"datum": 0.925, "type": "quantitative"}, "text": {"field": "s", "type": "nominal"}}
        }
      ]
    }
  ]
}
